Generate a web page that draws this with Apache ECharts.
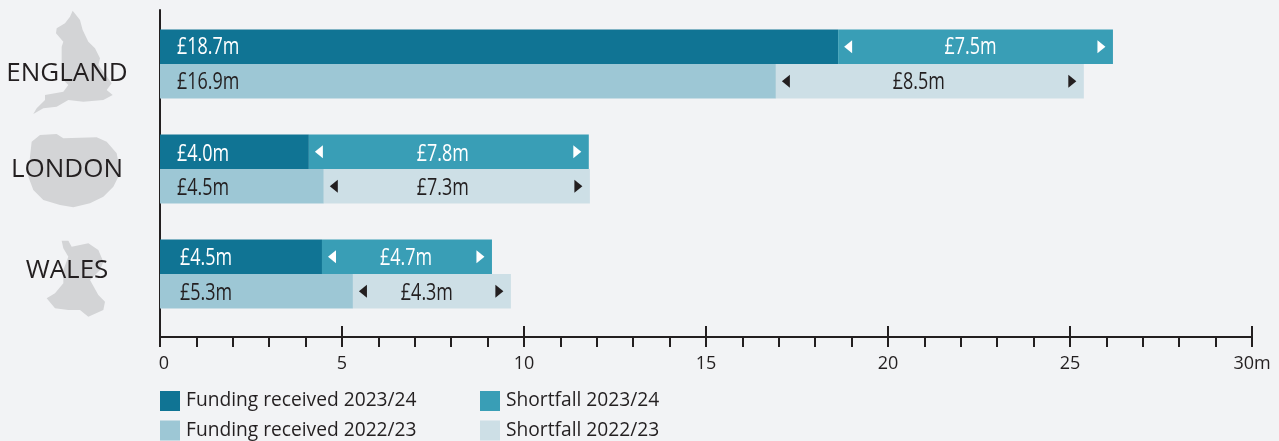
<!DOCTYPE html>
<html><head><meta charset="utf-8">
<style>html,body{margin:0;padding:0;background:#f2f3f5}#c{width:1279px;height:441px}</style>
<script src="https://cdn.jsdelivr.net/npm/echarts@6/dist/echarts.min.js"></script>
</head><body><div id="c"></div>
<script>
const categories = ['ENGLAND', 'LONDON', 'WALES'];
const funding2324 = [18.63, 4.09, 4.45];
const shortfall2324 = [7.55, 7.69, 4.67];
const funding2223 = [16.92, 4.5, 5.3];
const shortfall2223 = [8.46, 7.31, 4.34];
const fundingLabels2324 = ['£18.7m', '£4.0m', '£4.5m'];
const shortfallLabels2324 = ['£7.5m', '£7.8m', '£4.7m'];
const fundingLabels2223 = ['£16.9m', '£4.5m', '£5.3m'];
const shortfallLabels2223 = ['£8.5m', '£7.3m', '£4.3m'];
const tickLabels = ['0', '5', '10', '15', '20', '25', '30m'];
const seriesNames = ['Funding received 2023/24', 'Shortfall 2023/24', 'Funding received 2022/23', 'Shortfall 2022/23'];

const INK = '#231f20', BODY = '"Open Sans","Noto Sans",sans-serif';
const BAR = 34.5, LABEL_SIZE = 23, SQUEEZE = 0.78;
const LABEL_DY = [1, 2.5, 2];

// silhouettes (decorative pictures in the reference), traced at 3x
const englandShape = [[218,32],[240,60],[248,90],[265,125],[285,145],[300,175],[295,195],[310,215],[335,250],[320,270],[338,285],[310,300],[250,305],[205,300],[170,320],[130,325],[100,342],[110,325],[135,300],[135,285],[190,275],[205,255],[190,240],[185,205],[185,140],[190,125],[168,100],[170,85],[195,70],[210,50]];
const londonShape = [[95,425],[120,405],[170,402],[190,415],[290,412],[320,425],[350,460],[358,500],[355,530],[340,560],[310,590],[270,610],[220,622],[180,615],[130,600],[100,570],[85,530],[90,470]];
const walesShape = [[185,722],[205,722],[215,740],[265,730],[295,750],[310,785],[300,810],[270,840],[295,885],[315,905],[310,930],[265,950],[240,930],[205,930],[165,925],[140,895],[165,880],[190,850],[190,810],[205,770],[190,745]];
const silhouette = pts => ({type:'polygon', z:-1, silent:true, shape:{points:pts.map(p=>[p[0]/3,p[1]/3])}, style:{fill:'#d3d4d6'}});

function barSeries(name, values, color, stack) {
  return {type:'bar', name, stack, xAxisIndex:0, yAxisIndex:0, barWidth:BAR, barGap:0, data:values, itemStyle:{color}};
}
// arrows and condensed value labels drawn over the bars of one year
function overlaySeries(starts, lengths, fundLabels, shortLabels, color, side, leftPads, shifts) {
  return {type:'custom', xAxisIndex:0, yAxisIndex:0, silent:true, z:5,
    encode:{x:[0,1], y:2},
    data:starts.map((s,i)=>[s, s+lengths[i], i]),
    renderItem:(params, api)=>{
      const i = params.dataIndex;
      const zero = api.coord([0, api.value(2)]);
      const a = api.coord([api.value(0), api.value(2)]);
      const b = api.coord([api.value(1), api.value(2)]);
      const y = a[1] + side*BAR/2;
      const lx = a[0]+6, rx = b[0]-7.5;
      const txt = (x, text, align) => ({type:'text', x, y:y+LABEL_DY[i], scaleX:SQUEEZE,
        style:{text, fill:color, font:LABEL_SIZE+'px '+BODY, align, verticalAlign:'middle'}});
      return {type:'group', children:[
        {type:'polygon', shape:{points:[[lx,y],[lx+8,y-6.5],[lx+8,y+6.5]]}, style:{fill:color}},
        {type:'polygon', shape:{points:[[rx,y],[rx-8,y-6.5],[rx-8,y+6.5]]}, style:{fill:color}},
        txt(zero[0]+leftPads[i], fundLabels[i], 'left'),
        txt((a[0]+b[0])/2+shifts[i], shortLabels[i], 'center')
      ]};
    }};
}

const chart = echarts.init(document.getElementById('c'));
chart.setOption({
  animation:false,
  backgroundColor:'#f2f3f5',
  textStyle:{fontFamily:BODY, color:INK},
  grid:[
    {left:160, width:1092, top:11.5, height:315},
    {left:160, width:1092, top:10, height:327}
  ],
  xAxis:[
    {gridIndex:0, type:'value', min:0, max:30, show:false},
    {gridIndex:1, type:'value', min:0, max:30, interval:5, position:'bottom',
      axisLine:{show:true, onZero:false, lineStyle:{color:INK, width:2}},
      axisTick:{show:true, length:10, lineStyle:{color:INK, width:2}},
      minorTick:{show:true, splitNumber:5, length:10, lineStyle:{color:INK, width:2}},
      splitLine:{show:false},
      axisLabel:{show:true, margin:18, color:INK, fontFamily:BODY, fontSize:18, showMinLabel:true, showMaxLabel:true,
        hideOverlap:false, formatter:(v)=>{const t=tickLabels[v/5]; return v===0?'{z|'+t+'}':t;},
        rich:{z:{padding:[0,0,0,8], fontFamily:BODY, fontSize:18, color:INK}}}},
    {gridIndex:1, type:'value', min:0, max:30, interval:5, position:'bottom',
      axisLine:{show:false, onZero:false},
      axisTick:{show:true, inside:true, length:11, lineStyle:{color:INK, width:2}},
      axisLabel:{show:false}, splitLine:{show:false}}
  ],
  yAxis:[
    {gridIndex:0, type:'category', inverse:true, data:categories,
      axisLine:{show:false}, axisTick:{show:false},
      axisLabel:{margin:93, align:'center', color:INK, fontFamily:BODY, fontSize:26,
        formatter:(v,i)=>'{c'+i+'|'+v+'}',
        rich:{
          c0:{padding:[20,0,0,0], fontFamily:BODY, fontSize:26, color:INK},
          c1:{padding:[2,0,0,0], fontFamily:BODY, fontSize:26, color:INK},
          c2:{padding:[0,0,6,0], fontFamily:BODY, fontSize:26, color:INK}
        }}},
    {gridIndex:1, type:'value', min:0, max:1, position:'left',
      axisLine:{show:true, onZero:false, lineStyle:{color:INK, width:2}},
      axisTick:{show:false}, axisLabel:{show:false}, splitLine:{show:false}}
  ],
  legend:[
    {left:160, top:391, height:60, padding:0, orient:'vertical', itemWidth:20, itemHeight:20, itemGap:9.5, icon:'rect', selectedMode:false,
      data:[seriesNames[0], seriesNames[2]], textStyle:{color:INK, fontFamily:BODY, fontSize:19.2, padding:[0,0,0,1]}},
    {left:480, top:391, height:60, padding:0, orient:'vertical', itemWidth:20, itemHeight:20, itemGap:9.5, icon:'rect', selectedMode:false,
      data:[seriesNames[1], seriesNames[3]], textStyle:{color:INK, fontFamily:BODY, fontSize:19.2, padding:[0,0,0,1]}}
  ],
  graphic:[silhouette(englandShape), silhouette(londonShape), silhouette(walesShape)],
  series:[
    barSeries(seriesNames[0], funding2324, '#107494', 'y2324'),
    barSeries(seriesNames[1], shortfall2324, '#399eb6', 'y2324'),
    barSeries(seriesNames[2], funding2223, '#9dc7d5', 'y2223'),
    barSeries(seriesNames[3], shortfall2223, '#cddfe6', 'y2223'),
    overlaySeries(funding2324, shortfall2324, fundingLabels2324, shortfallLabels2324, '#ffffff', -1, [17,17,20], [-5,-6,-1]),
    overlaySeries(funding2223, shortfall2223, fundingLabels2223, shortfallLabels2223, INK, 1, [17,17,20], [-11,-14,-5])
  ]
});
</script></body></html>
